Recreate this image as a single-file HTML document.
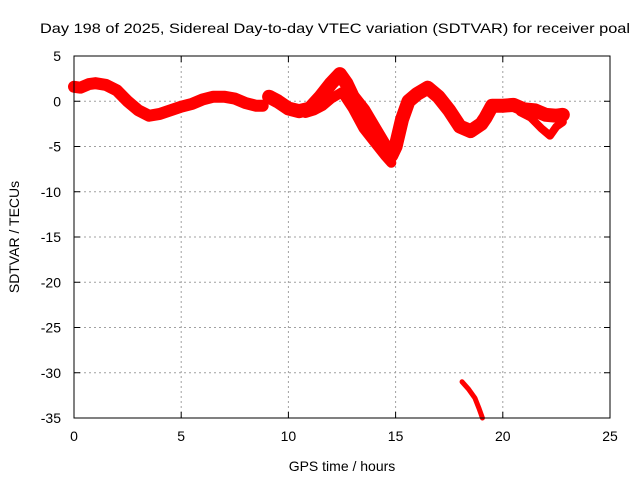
<!DOCTYPE html>
<html><head><meta charset="utf-8"><style>
body{margin:0;background:#fff;}
svg{display:block;font-family:"Liberation Sans",sans-serif;}
</style></head><body>
<svg id="chart" width="640" height="480">
<text x="40" y="33" font-size="14" textLength="590" lengthAdjust="spacingAndGlyphs">Day 198 of 2025, Sidereal Day-to-day VTEC variation (SDTVAR) for receiver poal</text>
<g id="grid"></g>
<g id="ticks"></g>
<g id="series"></g>
<rect x="74" y="56" width="536" height="362" fill="none" stroke="#000" stroke-width="1"/>
<text x="342" y="471" font-size="14" text-anchor="middle">GPS time / hours</text>
<text transform="translate(19,237) rotate(-90)" font-size="14" text-anchor="middle">SDTVAR / TECUs</text>
</svg>
<script>
const xTicks=[0,5,10,15,20,25];
const yTicks=[5,0,-5,-10,-15,-20,-25,-30,-35];
const trackAHours=[0,0.3,0.7,1,1.5,2,2.5,3,3.5,4,4.5,5,5.5,6,6.5,7,7.5,8,8.5,8.8];
const trackAValues=[1.6,1.5,1.9,2.0,1.8,1.2,0,-1.0,-1.6,-1.4,-1.0,-0.6,-0.3,0.2,0.5,0.5,0.3,-0.2,-0.5,-0.5];
const trackBHours=[9.1,9.5,10,10.5,11,11.5,12,12.4,12.7,13,13.5,14,14.5,14.8,15,15.3,15.6,16,16.5,17,17.5,18,18.5,19,19.2,19.5,20,20.5,21,21.5,22,22.5,22.8];
const trackBValues=[0.5,0,-0.8,-1.1,-0.8,0.5,2.0,3.0,2.0,0.5,-1.0,-3.0,-5.0,-6.0,-5.0,-2.0,0,0.8,1.5,0.5,-1.0,-2.8,-3.3,-2.5,-1.8,-0.5,-0.5,-0.4,-0.9,-1.0,-1.5,-1.6,-1.5];
const trackCHours=[10.8,11.2,11.6,12,12.5,13,13.5,14,14.5,14.8];
const trackCValues=[-1.3,-1.0,-0.5,0.3,1.0,-0.8,-3.0,-4.5,-6.0,-6.8];
const trackDHours=[20.8,21.3,21.8,22.2,22.5,22.8];
const trackDValues=[-1.2,-1.8,-3.0,-3.8,-2.8,-2.3];
const trackEHours=[18.1,18.4,18.7,18.9,19.05];
const trackEValues=[-31.0,-31.8,-32.8,-34.0,-35.0];
const NS='http://www.w3.org/2000/svg';
const X0=74,X1=610,Y0=418,Y1=56,XMIN=0,XMAX=25,YMIN=-35,YMAX=5;
function xs(v){return X0+(v-XMIN)/(XMAX-XMIN)*(X1-X0);}
function ys(v){return Y0-(v-YMIN)/(YMAX-YMIN)*(Y0-Y1);}
function mk(tag,attrs,parent){const e=document.createElementNS(NS,tag);for(const k in attrs)e.setAttribute(k,attrs[k]);parent.appendChild(e);return e;}
const grid=document.getElementById('grid'),ticks=document.getElementById('ticks'),series=document.getElementById('series');
xTicks.forEach(t=>{const x=xs(t);
 if(t>XMIN&&t<XMAX){const g=mk('line',{x1:x,x2:x,y1:Y1,y2:Y0,stroke:'#a0a0a0','stroke-dasharray':'2,3'},grid);
 
 }
 const a=mk('line',{x1:x,x2:x,y1:Y0,y2:Y0-6,stroke:'#000'},ticks);
 
 
 const b=mk('line',{x1:x,x2:x,y1:Y1,y2:Y1+6,stroke:'#000'},ticks);
 
 
 const l=mk('text',{x:x,y:Y0+23,'font-size':14,'text-anchor':'middle'},ticks);l.textContent=t;
 
 
});
yTicks.forEach(t=>{const y=ys(t);
 if(t>YMIN&&t<YMAX){const g=mk('line',{x1:X0,x2:X1,y1:y,y2:y,stroke:'#a0a0a0','stroke-dasharray':'2,3'},grid);
 
 }
 const a=mk('line',{x1:X0,x2:X0+6,y1:y,y2:y,stroke:'#000'},ticks);
 
 
 const b=mk('line',{x1:X1,x2:X1-6,y1:y,y2:y,stroke:'#000'},ticks);
 
 
 const l=mk('text',{x:X0-13,y:y+5,'font-size':14,'text-anchor':'end'},ticks);l.textContent=t;
 
 
});
function track(hs,vs,w,name){
 const p=mk('polyline',{points:hs.map((h,i)=>xs(h)+','+ys(vs[i])).join(' '),fill:'none',stroke:'#ff0000','stroke-width':w,'stroke-linejoin':'round','stroke-linecap':'round'},series);
 
 
}
track(trackAHours,trackAValues,12,'track-a');
track(trackBHours,trackBValues,14,'track-b');
track(trackCHours,trackCValues,10,'track-c');
track(trackDHours,trackDValues,8,'track-d');
track(trackEHours,trackEValues,5,'track-e');
</script>
</body></html>
